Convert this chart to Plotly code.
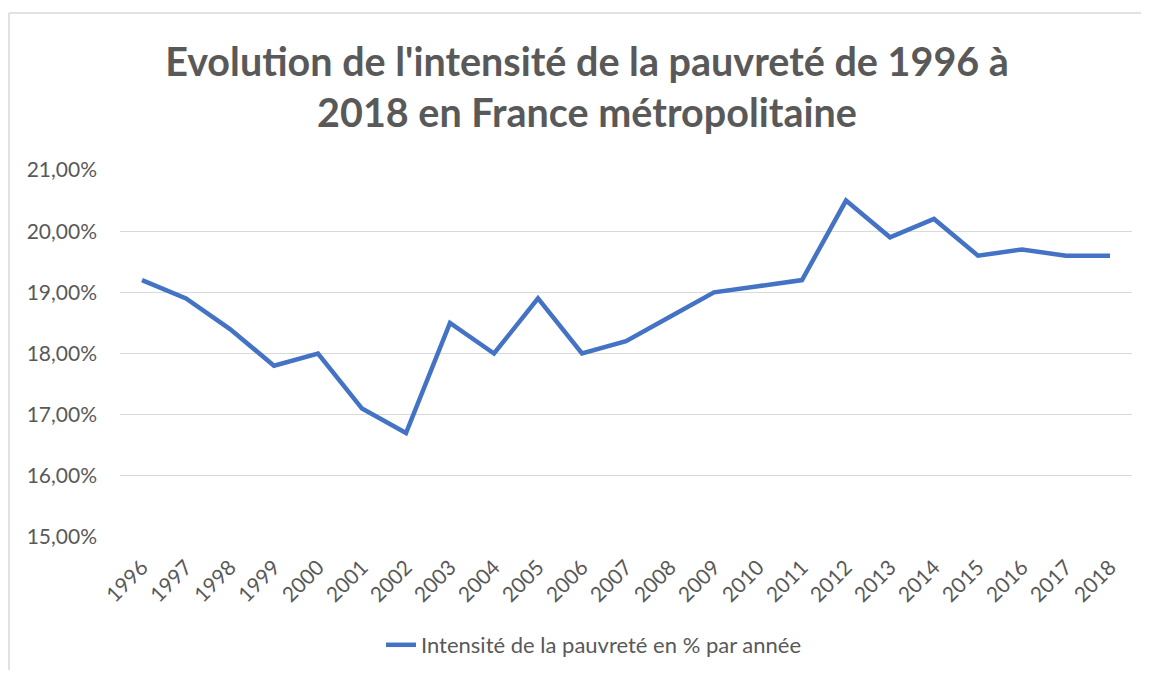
import plotly.graph_objects as go

years = [str(y) for y in range(1996, 2019)]
values = [19.2, 18.9, 18.4, 17.8, 18.0, 17.1, 16.7, 18.5, 18.0, 18.9, 18.0, 18.2,
          18.6, 19.0, 19.1, 19.2, 20.5, 19.9, 20.2, 19.6, 19.7, 19.6, 19.6]
values_frac = [v / 100 for v in values]
y_ticks = [0.15, 0.16, 0.17, 0.18, 0.19, 0.20, 0.21]
series_name = "Intensité de la pauvreté en % par année"
title = "Evolution de l'intensité de la pauvreté de 1996 à<br>2018 en France métropolitaine"

# page body has an 8px margin on every side; keep the page inside the viewport
OFF = 8
VW, VH = 1149, 678
W, H = VW - 2 * OFF, VH - 2 * OFF
L, T = 120 - OFF, 170 - OFF
R = OFF + W - 1132
B = OFF + H - 537
pw, ph = W - L - R, H - T - B

fig = go.Figure()
fig.add_trace(go.Scatter(
    x=years, y=values_frac, mode="lines", name=series_name,
    line=dict(color="#4472C4", width=4.5),
))

font_family = "Lato, 'Open Sans', sans-serif"
fig.update_layout(
    width=W, height=H,
    margin=dict(l=L, r=R, t=T, b=B),
    paper_bgcolor="white", plot_bgcolor="white",
    separators=", ",
    font=dict(family=font_family, color="#595959"),
    title=dict(text=title, x=(587 - OFF) / W, xanchor="center", xref="container",
               y=1 - 68 / H, yanchor="top",
               font=dict(size=39.5, color="#595959", family=font_family, weight="bold")),
    xaxis=dict(type="category", range=[-0.5, len(years) - 0.5], tickangle=-45,
               tickfont=dict(size=21, color="#595959"),
               showgrid=False, showline=False, ticks="", zeroline=False,
               ticklabelstandoff=13),
    yaxis=dict(range=[0.15, 0.21], tickvals=y_ticks, tickformat=".2%",
               tickfont=dict(size=21, color="#595959"), showgrid=True,
               gridcolor="#D9D9D9", gridwidth=1.3, zeroline=False, showline=False,
               ticks="", ticklabelstandoff=22),
    showlegend=True,
    legend=dict(orientation="h", x=(594 - OFF) / W, xanchor="center", xref="container",
                y=1 - (645 - OFF) / H, yref="container",
                yanchor="middle", font=dict(size=22, color="#595959")),
)

# chart frame: only its top and left edges are inside the picture
frame = dict(color="#D9D9D9", width=1.5)
fig.add_shape(type="line", xref="paper", yref="paper",
              x0=(9 - 120) / pw, x1=(VW + 40 - 120) / pw,
              y0=(537 - 13) / ph, y1=(537 - 13) / ph, line=frame, layer="below")
fig.add_shape(type="line", xref="paper", yref="paper",
              x0=(9 - 120) / pw, x1=(9 - 120) / pw,
              y0=-(VH + 40 - 537) / ph, y1=(537 - 13) / ph, line=frame, layer="below")

fig.write_html(
    "out.html",
    config={"displayModeBar": False},
    post_script="document.documentElement.style.overflow='hidden';"
                "document.body.style.overflow='hidden';",
)
